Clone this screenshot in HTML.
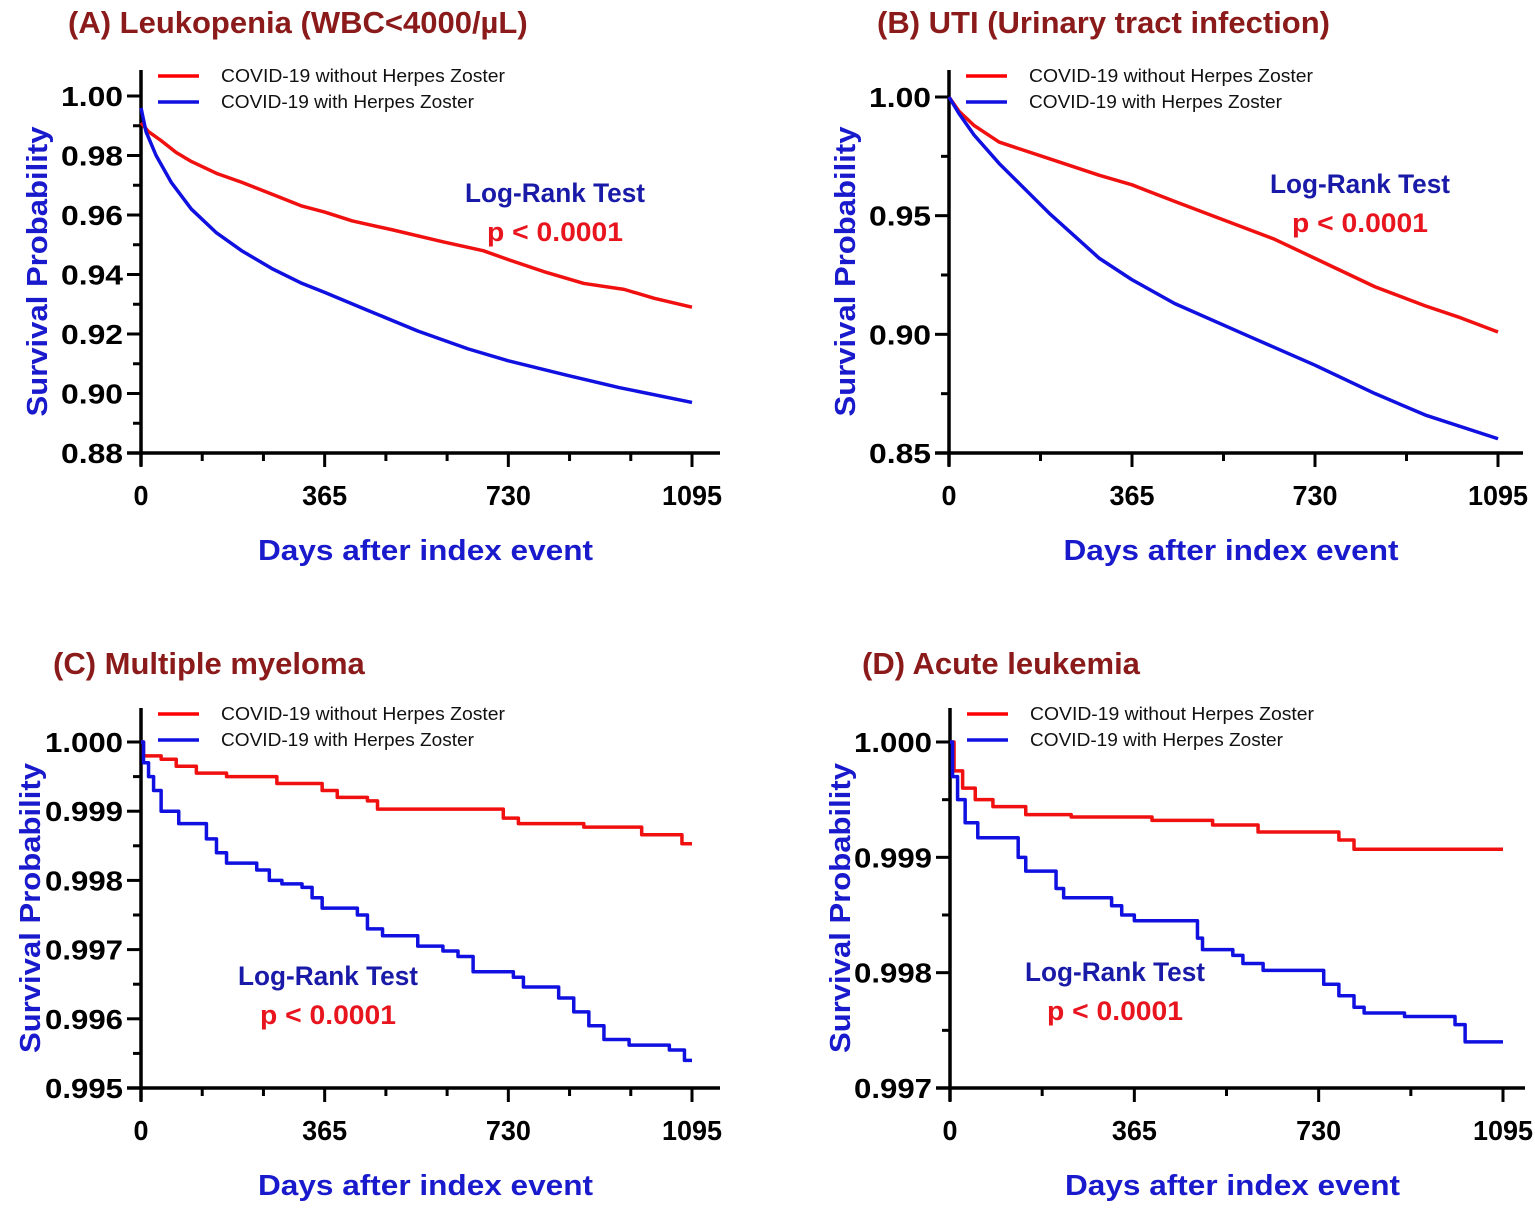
<!DOCTYPE html>
<html><head><meta charset="utf-8"><style>
html,body{margin:0;padding:0;background:#fff;overflow:hidden;}
svg{display:block;}
text{font-family:"Liberation Sans",sans-serif;}
</style></head><body>
<svg id="s" width="1535" height="1209" viewBox="0 0 1535 1209" xmlns="http://www.w3.org/2000/svg"></svg>
<script>
const S=document.getElementById('s');let h='';
function panel(o){
 const {x0,x1,xe,yt,yb,vmin,vmax,ticks,dec,yfmt,xstep,title,tx,ty,red,blue,step,lrx,lry,top,ylx}=o;
 const X=d=>x0+(x1-x0)*d/1095, Y=v=>yb-(yb-yt)*(v-vmin)/(vmax-vmin);
 h+=`<text x="${tx}" y="${ty}" font-size="31" font-weight="bold" fill="#8b1a1a">${title}</text>`;
 h+=`<line x1="${x0}" y1="${top}" x2="${x0}" y2="${yb+13}" stroke="#000" stroke-width="3.5"/>`;
 h+=`<line x1="${x0-14}" y1="${yb}" x2="${xe}" y2="${yb}" stroke="#000" stroke-width="3.5"/>`;
 const n=ticks.length;
 for(let i=0;i<n;i++){const y=Y(ticks[i]);
  h+=`<line x1="${x0-14}" y1="${y}" x2="${x0}" y2="${y}" stroke="#000" stroke-width="3"/>`;
  h+=`<text x="${x0-18}" y="${y+10}" font-size="28" font-weight="bold" text-anchor="end" textLength="${yfmt}" lengthAdjust="spacingAndGlyphs">${ticks[i].toFixed(dec)}</text>`;
  if(i<n-1){const ym=(y+Y(ticks[i+1]))/2;h+=`<line x1="${x0-8}" y1="${ym}" x2="${x0}" y2="${ym}" stroke="#000" stroke-width="3"/>`;}
 }
 for(let d=0;d<=1095.5;d+=xstep){const x=X(d);const maj=[0,365,730,1095].some(m=>Math.abs(m-d)<1);
  h+=`<line x1="${x}" y1="${yb}" x2="${x}" y2="${yb+(maj?14:8)}" stroke="#000" stroke-width="3"/>`;}
 [0,365,730,1095].forEach(d=>h+=`<text x="${X(d)}" y="${yb+52}" font-size="28" font-weight="bold" text-anchor="middle" textLength="${String(d).length*15}" lengthAdjust="spacingAndGlyphs">${d}</text>`);
 const yc=(top+yb)/2+10;
 h+=`<text transform="translate(${ylx},${yc}) rotate(-90)" font-size="29" font-weight="bold" fill="#1a1acd" text-anchor="middle" textLength="290" lengthAdjust="spacingAndGlyphs">Survival Probability</text>`;
 h+=`<text x="${(x0+xe)/2-5}" y="${yb+107}" font-size="29" font-weight="bold" fill="#1a1acd" text-anchor="middle" textLength="335" lengthAdjust="spacingAndGlyphs">Days after index event</text>`;
 h+=`<line x1="${x0+17}" y1="${top+6}" x2="${x0+58}" y2="${top+6}" stroke="#f00" stroke-width="3.5"/>`;
 h+=`<line x1="${x0+17}" y1="${top+32}" x2="${x0+58}" y2="${top+32}" stroke="#1010e0" stroke-width="3.5"/>`;
 h+=`<text x="${x0+80}" y="${top+12}" font-size="18.5" fill="#111" textLength="284" lengthAdjust="spacingAndGlyphs">COVID-19 without Herpes Zoster</text>`;
 h+=`<text x="${x0+80}" y="${top+38}" font-size="18.5" fill="#111" textLength="253" lengthAdjust="spacingAndGlyphs">COVID-19 with Herpes Zoster</text>`;
 h+=`<text x="${lrx}" y="${lry}" font-size="27" font-weight="bold" fill="#1a1aa8" text-anchor="middle" textLength="180" lengthAdjust="spacingAndGlyphs">Log-Rank Test</text>`;
 h+=`<text x="${lrx}" y="${lry+39}" font-size="27" font-weight="bold" fill="#e8141e" text-anchor="middle" textLength="136" lengthAdjust="spacingAndGlyphs">p &lt; 0.0001</text>`;
 function path(pts,c){let d;
  if(step){d=`M${X(0)},${Y(pts[0][1])}`;
   for(let i=1;i<pts.length;i++){d+=` H${X(pts[i][0])} V${Y(pts[i][1])}`;}
   d+=` H${X(1095)}`;
  } else {d='M'+pts.map(p=>X(p[0])+','+Y(p[1])).join(' L');}
  h+=`<path d="${d}" fill="none" stroke="${c}" stroke-width="3.5" stroke-linejoin="round"/>`;}
 path(red,'#f01010');path(blue,'#1010e0');
}
panel({x0:141,x1:692,xe:720,yt:96,yb:453,vmin:0.88,vmax:1.0,ticks:[0.88,0.90,0.92,0.94,0.96,0.98,1.00],dec:2,yfmt:62,xstep:1095/9,ylx:47,
 title:"(A) Leukopenia (WBC&lt;4000/µL)",tx:68,ty:33,top:70,lrx:555,lry:202,step:false,
 red:[[0,0.991],[15,0.988],[40,0.985],[70,0.981],[100,0.978],[150,0.974],[200,0.971],[260,0.967],[320,0.963],[365,0.961],[420,0.958],[500,0.955],[600,0.951],[680,0.948],[730,0.945],[800,0.941],[880,0.937],[960,0.935],[1020,0.932],[1095,0.929]],
 blue:[[0,0.996],[10,0.988],[30,0.980],[60,0.971],[100,0.962],[150,0.954],[200,0.948],[260,0.942],[320,0.937],[365,0.934],[450,0.928],[550,0.921],[650,0.915],[730,0.911],[850,0.906],[950,0.902],[1095,0.897]]});
panel({x0:949,x1:1498,xe:1523,yt:97,yb:453,vmin:0.85,vmax:1.0,ticks:[0.85,0.90,0.95,1.00],dec:2,yfmt:62,xstep:182.5,ylx:855,
 title:"(B) UTI (Urinary tract infection)",tx:877,ty:33,top:70,lrx:1360,lry:193,step:false,
 red:[[0,1.0],[20,0.994],[50,0.988],[100,0.981],[200,0.974],[300,0.967],[365,0.963],[450,0.956],[550,0.948],[650,0.940],[730,0.932],[850,0.920],[950,0.912],[1020,0.907],[1095,0.901]],
 blue:[[0,1.0],[20,0.993],[50,0.984],[100,0.972],[200,0.951],[300,0.932],[365,0.923],[450,0.913],[600,0.899],[730,0.887],[850,0.875],[950,0.866],[1095,0.856]]});
panel({x0:141,x1:692,xe:720,yt:742,yb:1088,vmin:0.995,vmax:1.0,ticks:[0.995,0.996,0.997,0.998,0.999,1.000],dec:3,yfmt:78,xstep:1095/9,ylx:40,
 title:"(C) Multiple myeloma",tx:53,ty:674,top:708,lrx:328,lry:985,step:true,
 red:[[0,1.0],[5,0.9998],[40,0.99975],[70,0.99965],[110,0.99955],[170,0.9995],[270,0.9994],[360,0.9993],[390,0.9992],[450,0.99915],[470,0.99903],[720,0.9989],[750,0.99882],[880,0.99877],[995,0.99866],[1075,0.99853]],
 blue:[[0,1.0],[5,0.9997],[15,0.9995],[25,0.9993],[40,0.999],[75,0.99882],[130,0.9986],[150,0.9984],[170,0.99825],[230,0.99815],[255,0.998],[280,0.99795],[320,0.9979],[340,0.99775],[360,0.9976],[430,0.9975],[450,0.9973],[480,0.9972],[550,0.99705],[600,0.99698],[630,0.9969],[660,0.99668],[740,0.9966],[760,0.99646],[830,0.9963],[860,0.9961],[890,0.9959],[920,0.9957],[970,0.99562],[1050,0.99555],[1080,0.9954]]});
panel({x0:950,x1:1503,xe:1525,yt:742,yb:1088,vmin:0.997,vmax:1.0,ticks:[0.997,0.998,0.999,1.000],dec:3,yfmt:78,xstep:182.5,ylx:850,
 title:"(D) Acute leukemia",tx:862,ty:674,top:708,lrx:1115,lry:981,step:true,
 red:[[0,1.0],[8,0.99975],[25,0.9996],[50,0.9995],[85,0.99944],[150,0.99937],[240,0.99935],[400,0.99932],[520,0.99928],[610,0.99922],[770,0.99915],[800,0.99907]],
 blue:[[0,1.0],[5,0.9997],[15,0.9995],[30,0.9993],[55,0.99917],[135,0.999],[150,0.99888],[210,0.99873],[225,0.99865],[320,0.99858],[340,0.9985],[365,0.99845],[490,0.9983],[500,0.9982],[560,0.99815],[580,0.99808],[620,0.99802],[740,0.9979],[770,0.9978],[800,0.9977],[820,0.99765],[900,0.99762],[1000,0.99755],[1020,0.9974]]});
S.innerHTML=h;
</script>
</body></html>
